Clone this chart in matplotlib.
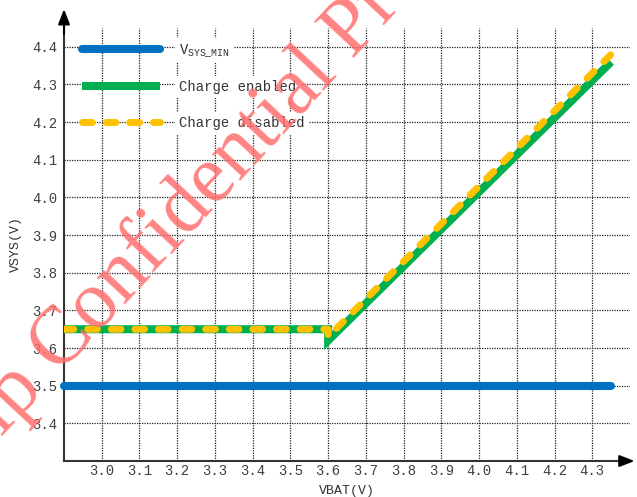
import matplotlib
matplotlib.use("Agg")
import matplotlib.pyplot as plt

# data
vsys_min_x = [2.9, 4.35]
vsys_min_y = [3.5, 3.5]
enabled_x = [2.9, 3.6, 3.6, 4.35]
enabled_y = [3.65, 3.65, 3.62, 4.36]
disabled_x = [2.9, 3.6, 3.6, 4.35]
disabled_y = [3.65, 3.65, 3.63, 4.38]

x_ticks = [3.0, 3.1, 3.2, 3.3, 3.4, 3.5, 3.6, 3.7, 3.8, 3.9, 4.0, 4.1, 4.2, 4.3]
y_ticks = [3.4, 3.5, 3.6, 3.7, 3.8, 3.9, 4.0, 4.1, 4.2, 4.3, 4.4]
labels = ["V$_{\\mathrm{SYS\\_MIN}}$", "Charge enabled", "Charge disabled"]

plt.rcParams['font.family'] = ['Liberation Mono', 'DejaVu Sans']
plt.rcParams['mathtext.fontset'] = 'custom'
plt.rcParams['mathtext.rm'] = 'Liberation Mono'

fig = plt.figure(figsize=(6.37, 4.97), dpi=100)
ax = fig.add_axes([0.1005, 0.0724, 0.8885, 0.8713])

# the three curves
ax.plot(vsys_min_x, vsys_min_y, color='#0070C0', lw=5.8,
        solid_capstyle='round', label=labels[0], zorder=3, clip_on=False)
ax.plot(enabled_x, enabled_y, color='#00B050', lw=5.8,
        solid_capstyle='butt', solid_joinstyle='miter', label=labels[1], zorder=3)
ax.plot(disabled_x, disabled_y, color='#FFC000', lw=5.0,
        dashes=(1.4, 2.0), dash_capstyle='round', label=labels[2], zorder=4)

ax.set_xlim(2.9, 4.4)
ax.set_ylim(3.3, 4.45)
ax.set_xticks(x_ticks)
ax.set_yticks(y_ticks)
ax.set_xticklabels([f"{v:.1f}" for v in x_ticks])
ax.set_yticklabels([f"{v:.1f}" for v in y_ticks])
ax.tick_params(length=0, labelsize=10, colors='#404040')
ax.tick_params(axis='x', pad=2)
ax.tick_params(axis='y', pad=5)

# dotted grid
ax.grid(True, color='#222222', linestyle=(0, (1, 1)), linewidth=0.9, zorder=0)
ax.set_axisbelow(True)

ax.spines['top'].set_visible(False)
ax.spines['right'].set_visible(False)
ax.spines['left'].set_color('#333333')
ax.spines['bottom'].set_color('#333333')
ax.spines['left'].set_linewidth(1.5)
ax.spines['bottom'].set_linewidth(1.5)

# arrow heads on both axes
ax.annotate('', xy=(0, 1.05), xytext=(0, 0.98), xycoords='axes fraction',
            arrowprops=dict(arrowstyle='-|>,head_length=0.9,head_width=0.35',
                            color='black', lw=1.5), annotation_clip=False)
ax.annotate('', xy=(1.013, 0), xytext=(0.99, 0), xycoords='axes fraction',
            arrowprops=dict(arrowstyle='-|>,head_length=0.9,head_width=0.35',
                            color='black', lw=1.5), annotation_clip=False)

ax.set_xlabel("VBAT(V)", fontsize=9.5, color='#333333', labelpad=5)
ax.set_ylabel("VSYS(V)", fontsize=9.5, color='#333333', labelpad=7)

leg = ax.legend(loc='upper left', bbox_to_anchor=(0.015, 0.99), frameon=False,
                fontsize=10, handlelength=5.6, handletextpad=1.4,
                labelspacing=1.55, borderaxespad=0.3)
for t in leg.get_texts():
    t.set_color('#333333')
    t.set_bbox(dict(facecolor='white', edgecolor='none', pad=3))

# watermark
fig.text(-0.10, -0.02, "Chip Confidential Proprietary", fontsize=59,
         family='Liberation Serif', color='#ff6e6e', alpha=0.85,
         rotation=47, rotation_mode='anchor', ha='left', va='baseline',
         zorder=10)

fig.savefig("out.png", dpi=100)
